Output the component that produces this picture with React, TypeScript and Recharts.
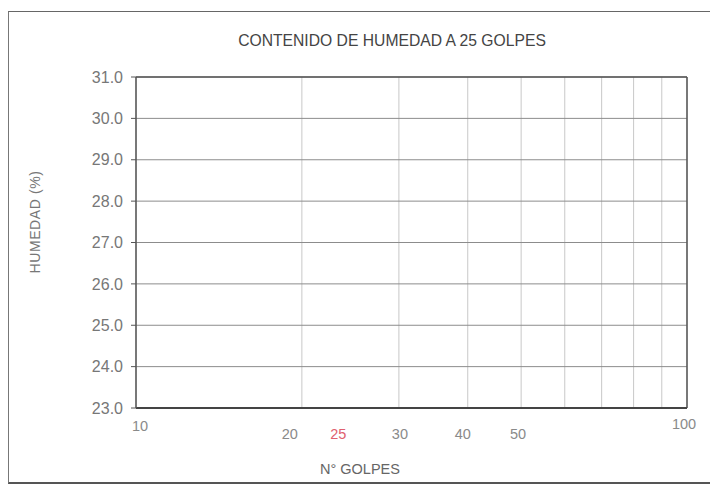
import React from "react";
import {
  ComposedChart,
  XAxis,
  YAxis,
  CartesianGrid,
  ReferenceLine,
  Line,
} from "recharts";

// golpes axis (log scale)
const gridGolpes = [10, 20, 30, 40, 50, 60, 70, 80, 90, 100];
const labelGolpes = [10, 20, 25, 30, 40, 50, 100];
const humedadTicks = [23, 24, 25, 26, 27, 28, 29, 30, 31];
const points: { golpes: number; humedad: number }[] = [];

const FONT = "'Liberation Sans', Arial, sans-serif";

// label nudges seen on the scan
const labelNudge: Record<number, [number, number]> = {
  10: [4, 0],
  20: [-12, 8],
  25: [-17, 8],
  30: [1, 8],
  40: [-5, 8],
  50: [-3, 8],
  100: [-3, -2],
};

const GolpesTick = (props: any) => {
  const { x, y, payload } = props;
  const v = payload.value;
  if (!labelGolpes.includes(v)) return null;
  const [dx, dy] = labelNudge[v] || [0, 0];
  return (
    <text
      x={x + dx}
      y={y + dy + 15}
      textAnchor="middle"
      fontSize={14.5}
      fontFamily={FONT}
      fill={v === 25 ? "#e0606e" : "#8a8a8a"}
    >
      {v}
    </text>
  );
};

export default function App() {
  return (
    <div
      style={{
        position: "absolute",
        left: 0,
        top: 0,
        width: 710,
        height: 485,
        background: "#fff",
        fontFamily: FONT,
        overflow: "hidden",
      }}
    >
      <div
        style={{
          position: "absolute",
          left: 8,
          top: 11,
          width: 720,
          height: 470,
          borderTop: "1.5px solid #666",
          borderLeft: "1.5px solid #777",
          borderBottom: "2px solid #555",
        }}
      />
      <div
        style={{
          position: "absolute",
          left: 0,
          top: 32,
          width: 784,
          textAlign: "center",
          fontSize: 15.7,
          color: "#444",
        }}
      >
        CONTENIDO DE HUMEDAD A 25 GOLPES
      </div>
      <div
        style={{
          position: "absolute",
          left: 35,
          top: 222,
          transform: "translate(-50%, -50%) rotate(-90deg)",
          fontSize: 14,
          letterSpacing: 0.6,
          color: "#777",
          whiteSpace: "nowrap",
        }}
      >
        HUMEDAD (%)
      </div>
      <div
        style={{
          position: "absolute",
          left: 320,
          top: 461,
          fontSize: 14.5,
          color: "#666",
        }}
      >
        N° GOLPES
      </div>
      <ComposedChart
        width={710}
        height={485}
        data={points}
        margin={{ top: 77, right: 23, left: 76, bottom: 47 }}
        style={{ position: "absolute", left: 0, top: 0 }}
      >
        <CartesianGrid
          horizontal={false}
          stroke="#c8c8c8"
          strokeWidth={1}
          verticalValues={gridGolpes}
        />
        <CartesianGrid
          vertical={false}
          stroke="#8c8c8c"
          strokeWidth={1}
          horizontalValues={humedadTicks}
        />
        <XAxis
          dataKey="golpes"
          type="number"
          scale="log"
          domain={[10, 100]}
          ticks={[...gridGolpes, 25]}
          allowDataOverflow
          height={30}
          axisLine={{ stroke: "#444", strokeWidth: 2 }}
          tickLine={false}
          tick={<GolpesTick />}
          interval={0}
        />
        <YAxis
          dataKey="humedad"
          type="number"
          domain={[23, 31]}
          ticks={humedadTicks}
          allowDataOverflow
          width={60}
          interval={0}
          tickFormatter={(v: number) => v.toFixed(1)}
          axisLine={{ stroke: "#555", strokeWidth: 1.5 }}
          tickLine={{ stroke: "#555" }}
          tickSize={5}
          tickMargin={8}
          tick={{ fontSize: 16, fill: "#777", fontFamily: FONT }}
        />
        <ReferenceLine y={31} stroke="#555" strokeWidth={1.5} />
        <ReferenceLine x={100} stroke="#555" strokeWidth={1.5} />
        <Line
          dataKey="humedad"
          stroke="#333"
          dot={false}
          isAnimationActive={false}
        />
      </ComposedChart>
    </div>
  );
}
